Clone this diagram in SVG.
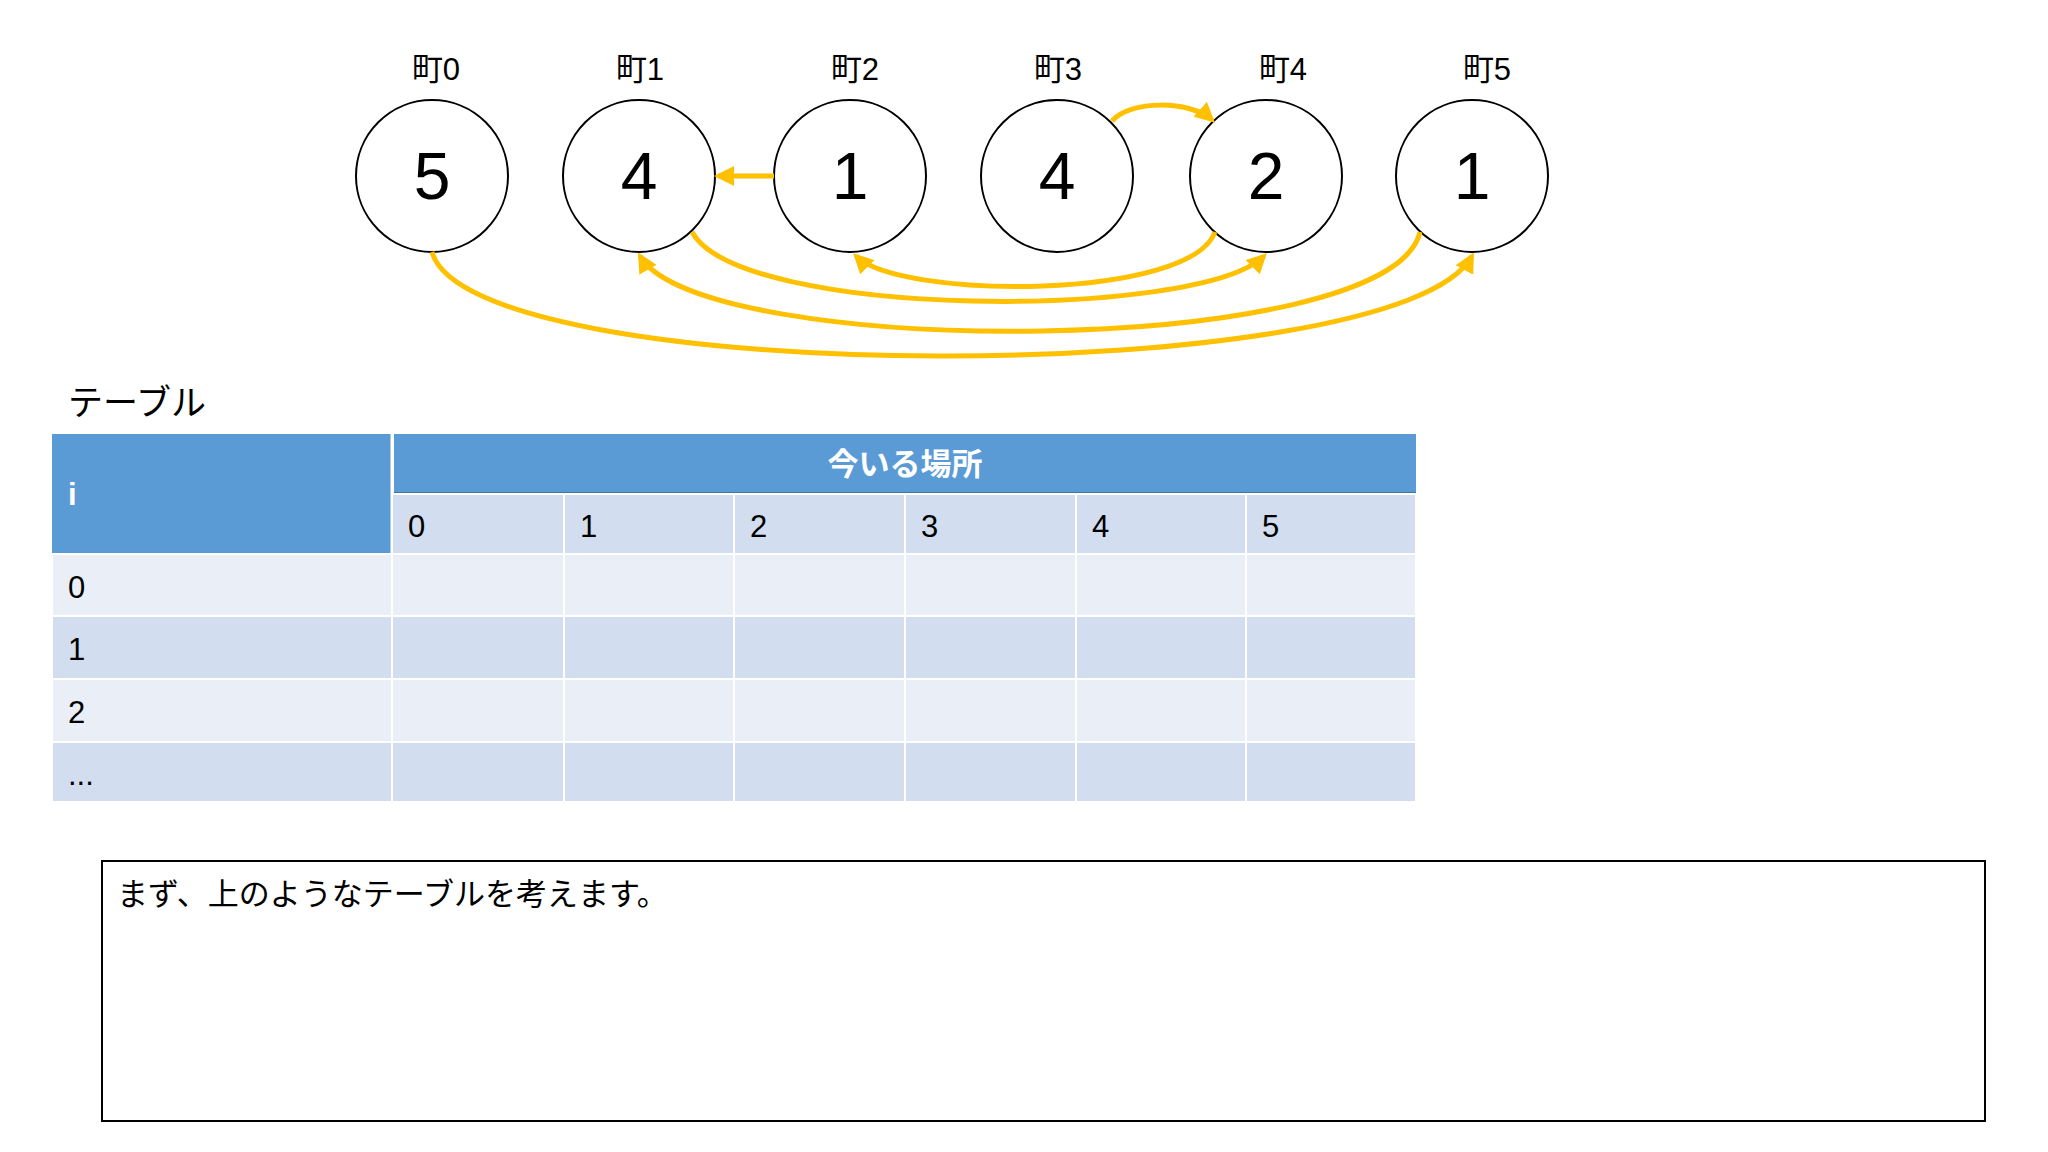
<svg xmlns="http://www.w3.org/2000/svg" width="2048" height="1152" viewBox="0 0 2048 1152">
<style>
text{font-family:"Liberation Sans","Noto Sans CJK JP",sans-serif;fill:#000}
.c{fill:#fff;stroke:#000;stroke-width:2}
.n{font-size:66px;text-anchor:middle}
.l{font-size:31px;text-anchor:middle}
.a{fill:none;stroke:#FFC000;stroke-width:5;marker-end:url(#ah)}
.t{font-size:31px}
.h{fill:#5B9BD5}
.d{fill:#D2DEEF;stroke:#fff;stroke-width:2}
.e{fill:#EAEFF7;stroke:#fff;stroke-width:2}
</style>
<defs><marker id="ah" viewBox="0 0 10 10" refX="8" refY="5" markerWidth="4" markerHeight="4" orient="auto"><path d="M0,0L10,5L0,10z" fill="#FFC000"/></marker></defs>
<rect width="2048" height="1152" fill="#fff"/>
<g id="n0"><text class="l" x="436" y="80">町0</text><circle class="c" cx="432" cy="176" r="76"/><text class="n" x="432" y="199">5</text></g>
<g id="n1"><text class="l" x="640" y="80">町1</text><circle class="c" cx="639" cy="176" r="76"/><text class="n" x="639" y="199">4</text></g>
<g id="n2"><text class="l" x="855" y="80">町2</text><circle class="c" cx="850" cy="176" r="76"/><text class="n" x="850" y="199">1</text></g>
<g id="n3"><text class="l" x="1058" y="80">町3</text><circle class="c" cx="1057" cy="176" r="76"/><text class="n" x="1057" y="199">4</text></g>
<g id="n4"><text class="l" x="1283" y="80">町4</text><circle class="c" cx="1266" cy="176" r="76"/><text class="n" x="1266" y="199">2</text></g>
<g id="n5"><text class="l" x="1487" y="80">町5</text><circle class="c" cx="1472" cy="176" r="76"/><text class="n" x="1472" y="199">1</text></g>
<g id="connectors">
<path class="a" d="M774,176L718,176"/>
<path class="a" d="M1112,121C1130,100 1190,100 1212,120"/>
<path class="a" d="M1215,232C1190,300 900,300 856,256"/>
<path class="a" d="M692,232C740,320 1200,320 1264,256"/>
<path class="a" d="M1420,232C1390,360 700,360 640,256"/>
<path class="a" d="M432,252C470,390 1400,390 1472,256"/>
</g>
<g id="table">
<text x="68" y="415" style="font-size:35px">テーブル</text>
<rect class="h" x="52" y="434" width="340" height="120"/>
<rect class="h" x="394" y="434" width="1022" height="60"/>
<line x1="392" y1="494" x2="1416" y2="494" stroke="#000" stroke-width="2.5"/>
<line x1="392" y1="434" x2="392" y2="554" stroke="#fff" stroke-width="3"/>
<g>
<rect class="d" x="392" y="494" width="172" height="60"/><rect class="d" x="564" y="494" width="170" height="60"/><rect class="d" x="734" y="494" width="171" height="60"/><rect class="d" x="905" y="494" width="171" height="60"/><rect class="d" x="1076" y="494" width="170" height="60"/><rect class="d" x="1246" y="494" width="170" height="60"/>
</g>
<g>
<rect class="e" x="52" y="554" width="340" height="62"/><rect class="e" x="392" y="554" width="1024" height="62"/>
<rect class="d" x="52" y="616" width="340" height="63"/><rect class="d" x="392" y="616" width="1024" height="63"/>
<rect class="e" x="52" y="679" width="340" height="63"/><rect class="e" x="392" y="679" width="1024" height="63"/>
<rect class="d" x="52" y="742" width="340" height="60"/><rect class="d" x="392" y="742" width="1024" height="60"/>
</g>
<g stroke="#fff" stroke-width="2">
<line x1="564" y1="554" x2="564" y2="802"/><line x1="734" y1="554" x2="734" y2="802"/><line x1="905" y1="554" x2="905" y2="802"/><line x1="1076" y1="554" x2="1076" y2="802"/><line x1="1246" y1="554" x2="1246" y2="802"/>
</g>
<text x="68" y="505" class="t" style="fill:#fff;font-weight:bold">i</text>
<text x="905" y="475" class="t" style="fill:#fff;font-weight:bold;text-anchor:middle">今いる場所</text>
<text class="t" x="408" y="537">0</text><text class="t" x="580" y="537">1</text><text class="t" x="750" y="537">2</text><text class="t" x="921" y="537">3</text><text class="t" x="1092" y="537">4</text><text class="t" x="1262" y="537">5</text>
<text class="t" x="68" y="598">0</text><text class="t" x="68" y="660">1</text><text class="t" x="68" y="723">2</text><text class="t" x="68" y="785">...</text>
</g>
<g id="note">
<rect x="102" y="861" width="1883" height="260" fill="none" stroke="#000" stroke-width="2"/>
<text x="117" y="905" class="t">まず、上のようなテーブルを考えます。</text>
</g>
</svg>
